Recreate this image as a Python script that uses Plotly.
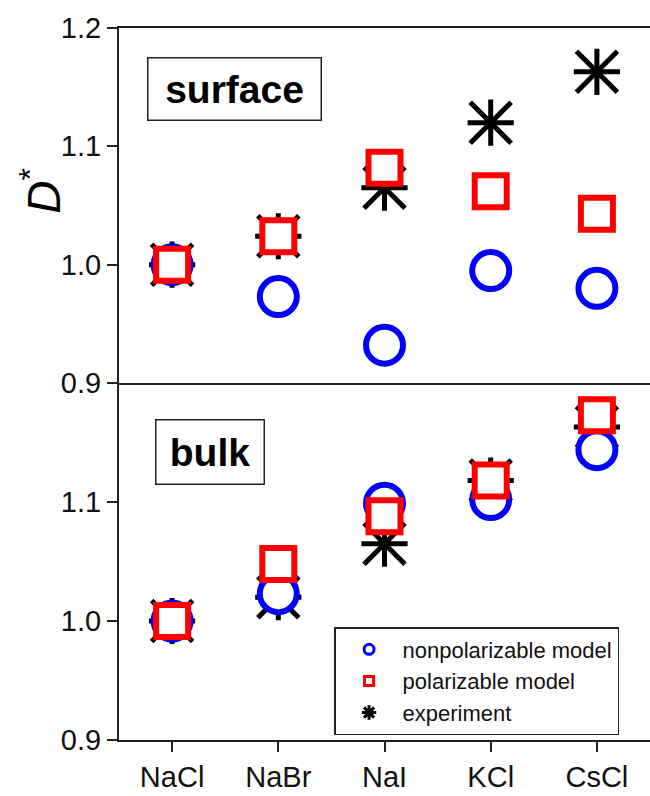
import plotly.graph_objects as go

salts = ["NaCl", "NaBr", "NaI", "KCl", "CsCl"]

# relative diffusion coefficients D* at the interface
surface_nonpol = [1.000, 0.973, 0.932, 0.995, 0.980]
surface_pol = [1.000, 1.024, 1.082, 1.062, 1.043]
surface_exp = [1.000, 1.024, 1.065, 1.120, 1.163]

# relative diffusion coefficients D* in the bulk
bulk_nonpol = [1.000, 1.023, 1.099, 1.102, 1.144]
bulk_pol = [1.000, 1.048, 1.088, 1.118, 1.173]
bulk_exp = [1.000, 1.020, 1.065, 1.118, 1.163]

y_ticks_top = [0.9, 1.0, 1.1, 1.2]
y_ticks_bottom = [0.9, 1.0, 1.1]

BLUE = "#0000ff"
RED = "#ff0000"
BLACK = "#000000"
WHITE = "#ffffff"
FONT = "Arial, Liberation Sans, sans-serif"

fig = go.Figure()


def add_panel(nonpol, pol, exp, xa, ya):
    # experimental asterisk (drawn first, underneath): upright cross plus diagonal cross
    fig.add_trace(go.Scatter(
        x=salts, y=exp, xaxis=xa, yaxis=ya, mode="markers", showlegend=False,
        marker=dict(symbol="cross-thin-open", size=33, color=BLACK, line=dict(color=BLACK, width=5)),
    ))
    fig.add_trace(go.Scatter(
        x=salts, y=exp, xaxis=xa, yaxis=ya, mode="markers", showlegend=False,
        marker=dict(symbol="x-thin-open", size=41, color=BLACK, line=dict(color=BLACK, width=5)),
    ))
    # model markers: coloured outline, white interior
    fig.add_trace(go.Scatter(
        x=salts, y=nonpol, xaxis=xa, yaxis=ya, mode="markers", showlegend=False,
        marker=dict(symbol="circle", size=37, color=WHITE, line=dict(color=BLUE, width=6)),
    ))
    fig.add_trace(go.Scatter(
        x=salts, y=pol, xaxis=xa, yaxis=ya, mode="markers", showlegend=False,
        marker=dict(symbol="square", size=32, color=WHITE, line=dict(color=RED, width=6)),
    ))


add_panel(bulk_nonpol, bulk_pol, bulk_exp, "x", "y")
add_panel(surface_nonpol, surface_pol, surface_exp, "x2", "y2")

# legend entries
fig.add_trace(go.Scatter(
    x=[None], y=[None], mode="markers", name="nonpolarizable model",
    marker=dict(symbol="circle", size=10, color=WHITE, line=dict(color=BLUE, width=3)),
))
fig.add_trace(go.Scatter(
    x=[None], y=[None], mode="markers", name="polarizable model",
    marker=dict(symbol="square", size=9, color=WHITE, line=dict(color=RED, width=3)),
))
fig.add_trace(go.Scatter(
    x=[None], y=[None], mode="markers", name="experiment",
    marker=dict(symbol="asterisk-open", size=12, color=BLACK, line=dict(color=BLACK, width=3)),
))

split = 0.5014
axis_common = dict(
    showline=True, linecolor="#222222", linewidth=2, showgrid=False, zeroline=False,
    tickfont=dict(family=FONT, size=29, color="#111111"),
)

fig.update_layout(
    width=650, height=796,
    margin=dict(l=119, r=0, t=28, b=56),
    paper_bgcolor="white", plot_bgcolor="white",
    font=dict(family=FONT, color="#111111"),
    xaxis=dict(
        **axis_common, range=[-0.5, 4.5], domain=[0, 1], anchor="y",
        ticks="outside", ticklen=10, tickwidth=2, tickcolor="#222222",
        tickvals=list(range(len(salts))), ticktext=salts,
    ),
    yaxis=dict(
        **axis_common, range=[0.9, 1.2], domain=[0, split], anchor="x",
        ticks="outside", ticklen=10, tickwidth=2, tickcolor="#222222",
        tickvals=y_ticks_bottom, ticktext=[f"{v:.1f}" for v in y_ticks_bottom],
    ),
    xaxis2=dict(
        **axis_common, range=[-0.5, 4.5], domain=[0, 1], anchor="y2",
        mirror=True, ticks="", showticklabels=False,
        tickvals=list(range(len(salts))),
    ),
    yaxis2=dict(
        **axis_common, range=[0.9, 1.2], domain=[split, 1], anchor="x2",
        ticks="outside", ticklen=10, tickwidth=2, tickcolor="#222222",
        tickvals=y_ticks_top, ticktext=[f"{v:.1f}" for v in y_ticks_top],
    ),
    legend=dict(
        x=0.405, y=0.1587, xanchor="left", yanchor="top",
        bordercolor="#222222", borderwidth=1.5, bgcolor="white",
        font=dict(family=FONT, size=22, color="#111111"),
        itemwidth=57, tracegroupgap=0,
    ),
    showlegend=True,
    annotations=[
        dict(
            text="<b>surface</b>", xref="paper", yref="paper", x=0.2166, y=0.915,
            xanchor="center", yanchor="middle",
            showarrow=False, font=dict(family=FONT, size=39, color=BLACK),
            bordercolor="#222222", borderwidth=1.5, borderpad=0, width=172, height=61,
        ),
        dict(
            text="<b>bulk</b>", xref="paper", yref="paper", x=0.172, y=0.4038,
            xanchor="center", yanchor="middle",
            showarrow=False, font=dict(family=FONT, size=39, color=BLACK),
            bordercolor="#222222", borderwidth=1.5, borderpad=0, width=107, height=63,
        ),
        dict(
            text="<i>D</i><sup>*</sup>", xref="paper", yref="paper", x=-0.146, y=0.772,
            xanchor="center", yanchor="middle",
            showarrow=False, textangle=-90, font=dict(family=FONT, size=46, color=BLACK),
        ),
    ],
)

fig.write_html("out.html")
